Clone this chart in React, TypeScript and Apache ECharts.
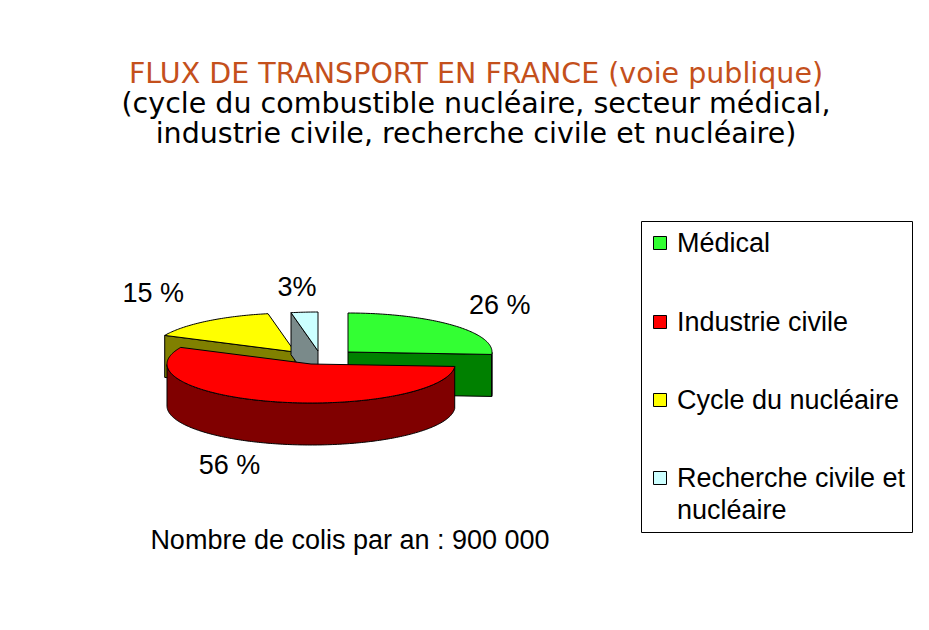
import React, { useRef, useEffect } from 'react'
import * as echarts from 'echarts'

// données du graphique
const names = ['Médical', 'Industrie civile', 'Cycle du nucléaire', 'Recherche civile et\nnucléaire']
const values = [26, 56, 15, 3]
const labels = ['26 %', '56 %', '15 %', '3%']
const titleMain = 'FLUX DE TRANSPORT EN FRANCE (voie publique)'
const titleSub = '(cycle du combustible nucléaire, secteur médical,\nindustrie civile, recherche civile et nucléaire)'
const footNote = 'Nombre de colis par an : 900 000'

// styles des parts
const topColors = ['#33ff33', '#ff0000', '#ffff00', '#ccffff']
const sideColors = ['#008000', '#800000', '#808000', '#7a8a8a']
const explode = [[30, 1], [-7, 13], [-23, 1], [0, 0]]
const labelNudge = [[-11, -6], [-26, 0], [-5, -11], [0, -4]]
const drawZ = [2, 5, 3, 4]

// géométrie du camembert 3D
const CX = 318
const CY = 351
const RX = 144
const RY = 39
const DEPTH = 42
const LABEL_K = 1.55
const DEG = Math.PI / 180

const sansFont = '"Liberation Sans", Arial, sans-serif'
const titleFont = '"DejaVu Sans", sans-serif'

const total = values.reduce((a, b) => a + b, 0)
const arcs: { s: number; e: number }[] = []
let acc = 90
for (const v of values) {
  const span = (v / total) * 360
  arcs.push({ s: acc, e: acc - span })
  acc -= span
}

const App: React.FC = () => {
  const chartRef = useRef<HTMLDivElement>(null)

  useEffect(() => {
    document.body.style.margin = '0'
    if (!chartRef.current) return
    const chart = echarts.init(chartRef.current, null, { renderer: 'svg' })

    const makeSlice = (i: number) => (params: any, api: any) => {
      const { s, e } = arcs[i]
      const cx = CX + explode[i][0]
      const cy = CY + explode[i][1]
      const P = (t: number, d = 0) => [cx + RX * Math.cos(t * DEG), cy - RY * Math.sin(t * DEG) + d]
      const poly = (points: number[][], fill: string) => ({
        type: 'polygon',
        shape: { points },
        style: { fill, stroke: '#000', lineWidth: 1, lineJoin: 'round' }
      })
      const children: any[] = []

      // faces radiales visibles
      if (Math.cos(e * DEG) > 1e-6) {
        children.push(poly([[cx, cy], P(e), P(e, DEPTH), [cx, cy + DEPTH]], sideColors[i]))
      }
      if (Math.cos(s * DEG) < -1e-6) {
        children.push(poly([[cx, cy], P(s), P(s, DEPTH), [cx, cy + DEPTH]], sideColors[i]))
      }

      // paroi extérieure (moitié avant)
      const n = Math.max(2, Math.ceil(s - e))
      let run: number[] = []
      const flush = () => {
        if (run.length > 1) {
          const pts = [...run.map(t => P(t)), ...run.slice().reverse().map(t => P(t, DEPTH))]
          children.push(poly(pts, sideColors[i]))
        }
        run = []
      }
      for (let k = 0; k <= n; k++) {
        const t = e + ((s - e) * k) / n
        if (Math.sin(t * DEG) <= 1e-6) run.push(t)
        else flush()
      }
      flush()

      // dessus
      const top: number[][] = [[cx, cy]]
      for (let k = 0; k <= n; k++) top.push(P(e + ((s - e) * k) / n))
      children.push(poly(top, topColors[i]))

      // étiquette
      const m = (s + e) / 2
      const sm = Math.sin(m * DEG)
      children.push({
        type: 'text',
        style: {
          text: labels[i],
          x: cx + LABEL_K * RX * Math.cos(m * DEG) + labelNudge[i][0],
          y: cy - LABEL_K * RY * sm + (sm < 0 ? DEPTH : 0) + labelNudge[i][1],
          align: 'center',
          verticalAlign: 'middle',
          fontSize: 27,
          fontFamily: sansFont,
          fill: '#000'
        }
      })
      return { type: 'group', children }
    }

    // légende encadrée
    const legendCenters = [243, 322, 400, 478]
    const legendGraphic: any[] = [
      {
        type: 'rect',
        shape: { x: 641.5, y: 221.5, width: 271, height: 311 },
        style: { fill: 'none', stroke: '#000', lineWidth: 1 }
      }
    ]
    names.forEach((name, i) => {
      legendGraphic.push({
        type: 'rect',
        shape: { x: 653.5, y: legendCenters[i] - 6.5, width: 13, height: 13 },
        style: { fill: topColors[i], stroke: '#000', lineWidth: 1 }
      })
      legendGraphic.push({
        type: 'text',
        x: 677,
        y: legendCenters[i] - 16,
        style: {
          text: name,
          fontSize: 27,
          lineHeight: 32,
          fontFamily: sansFont,
          fill: '#000',
          verticalAlign: 'top'
        }
      })
    })

    const option = {
      animation: false,
      backgroundColor: '#ffffff',
      title: [
        {
          text: titleMain,
          subtext: titleSub,
          left: 476,
          top: 58,
          padding: 0,
          itemGap: 0,
          textAlign: 'center',
          textVerticalAlign: 'top',
          textStyle: {
            color: '#c4501c',
            fontSize: 28.5,
            lineHeight: 30,
            fontWeight: 'normal',
            fontFamily: titleFont
          },
          subtextStyle: {
            color: '#000',
            fontSize: 28.5,
            lineHeight: 30,
            fontFamily: titleFont
          }
        },
        {
          text: footNote,
          left: 350,
          top: 525,
          padding: 0,
          textAlign: 'center',
          textVerticalAlign: 'top',
          textStyle: {
            color: '#000',
            fontSize: 27,
            lineHeight: 30,
            fontWeight: 'normal',
            fontFamily: sansFont
          }
        }
      ],
      graphic: legendGraphic,
      series: names.map((name, i) => ({
        type: 'custom',
        name,
        coordinateSystem: 'none',
        z: drawZ[i],
        itemStyle: { color: topColors[i] },
        data: [{ name, value: values[i] }],
        renderItem: makeSlice(i)
      }))
    }

    chart.setOption(option as any)
    return () => {
      chart.dispose()
    }
  }, [])

  return <div ref={chartRef} style={{ width: 929, height: 630 }} />
}

export default App
